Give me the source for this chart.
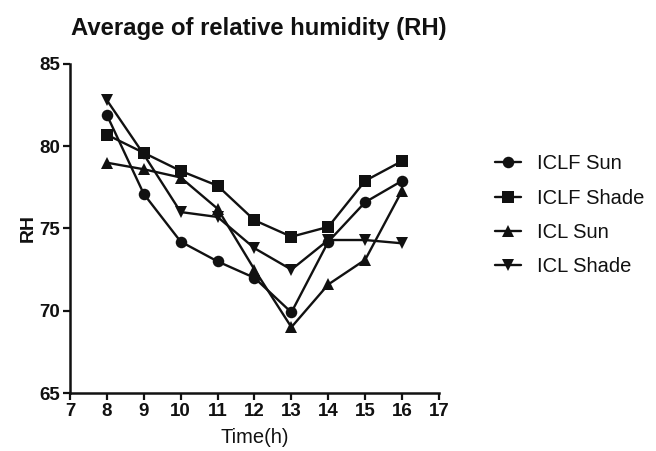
import pandas as pd, numpy as np, seaborn as sns
import matplotlib.pyplot as plt

hours = [8, 9, 10, 11, 12, 13, 14, 15, 16]
iclf_sun = [81.9, 77.1, 74.2, 73.0, 72.0, 69.9, 74.2, 76.6, 77.9]
iclf_shade = [80.7, 79.6, 78.5, 77.6, 75.5, 74.5, 75.1, 77.9, 79.1]
icl_sun = [79.0, 78.6, 78.1, 76.2, 72.5, 69.0, 71.6, 73.1, 77.3]
icl_shade = [82.8, 79.5, 76.0, 75.7, 73.8, 72.5, 74.3, 74.3, 74.1]
series = ["ICLF Sun", "ICLF Shade", "ICL Sun", "ICL Shade"]

df = pd.DataFrame({
    "Time(h)": hours * 4,
    "RH": iclf_sun + iclf_shade + icl_sun + icl_shade,
    "group": np.repeat(series, len(hours)),
})

sns.set_style("ticks")
plt.rcParams['font.family'] = ['Liberation Sans', 'DejaVu Sans']

fig = plt.figure(figsize=(6.56, 4.51), dpi=100)
ax = fig.add_axes([0.1067, 0.1286, 0.5625, 0.7295])

markers = {"ICLF Sun": "o", "ICLF Shade": "s", "ICL Sun": "^", "ICL Shade": "v"}

sns.lineplot(
    data=df, x="Time(h)", y="RH", hue="group", style="group",
    markers=markers, dashes=False, palette=["#111111"] * 4,
    linewidth=1.7, markersize=8.3, markeredgewidth=0, ax=ax,
)

ax.set_xlim(7, 17)
ax.set_ylim(65, 85)
ax.set_xticks(range(7, 18))
ax.set_yticks([65, 70, 75, 80, 85])
for t in ax.get_xticklabels() + ax.get_yticklabels():
    t.set_fontweight('bold')
ax.tick_params(axis='both', labelsize=13.5, width=1.6, length=5, pad=2,
               color='#111111', labelcolor='#111111')
sns.despine(ax=ax)
for s in ['left', 'bottom']:
    ax.spines[s].set_linewidth(1.8)
    ax.spines[s].set_color('#111111')

ax.set_xlabel("Time(h)", fontsize=14.5, color='#111111', labelpad=6)
ax.set_ylabel("RH", fontsize=14, fontweight='bold', color='#111111', labelpad=2)
ax.set_title("Average of relative humidity (RH)", fontsize=17.2, fontweight='bold',
             pad=21, x=0.512, color='#111111')

leg = ax.legend(title=None, loc='center left', bbox_to_anchor=(1.103, 0.54), frameon=False,
                fontsize=14.5, handlelength=1.3, handletextpad=0.8, labelspacing=0.76)
for txt in leg.get_texts():
    txt.set_color('#111111')

fig.savefig("out.png", dpi=100)
